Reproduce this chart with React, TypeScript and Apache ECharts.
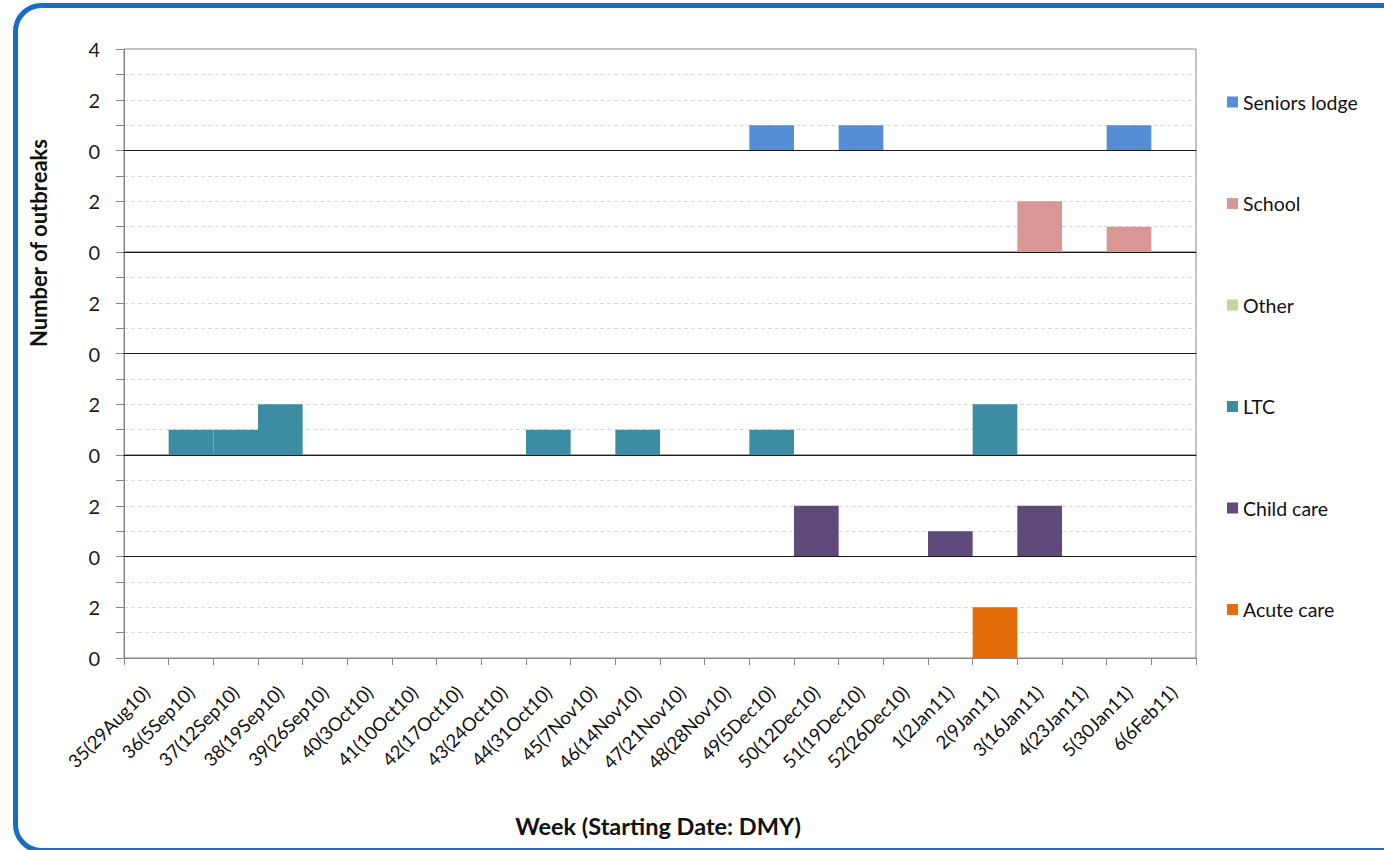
import React, { useEffect, useRef } from "react";
import * as echarts from "echarts";

const categories = [
  "35(29Aug10)", "36(5Sep10)", "37(12Sep10)", "38(19Sep10)", "39(26Sep10)", "40(3Oct10)",
  "41(10Oct10)", "42(17Oct10)", "43(24Oct10)", "44(31Oct10)", "45(7Nov10)", "46(14Nov10)",
  "47(21Nov10)", "48(28Nov10)", "49(5Dec10)", "50(12Dec10)", "51(19Dec10)", "52(26Dec10)",
  "1(2Jan11)", "2(9Jan11)", "3(16Jan11)", "4(23Jan11)", "5(30Jan11)", "6(6Feb11)",
];

const seniorsLodge = [0, 0, 0, 0, 0, 0, 0, 0, 0, 0, 0, 0, 0, 0, 1, 0, 1, 0, 0, 0, 0, 0, 1, 0];
const school = [0, 0, 0, 0, 0, 0, 0, 0, 0, 0, 0, 0, 0, 0, 0, 0, 0, 0, 0, 0, 2, 0, 1, 0];
const other = [0, 0, 0, 0, 0, 0, 0, 0, 0, 0, 0, 0, 0, 0, 0, 0, 0, 0, 0, 0, 0, 0, 0, 0];
const ltc = [0, 1, 1, 2, 0, 0, 0, 0, 0, 1, 0, 1, 0, 0, 1, 0, 0, 0, 0, 2, 0, 0, 0, 0];
const childCare = [0, 0, 0, 0, 0, 0, 0, 0, 0, 0, 0, 0, 0, 0, 0, 2, 0, 0, 1, 0, 2, 0, 0, 0];
const acuteCare = [0, 0, 0, 0, 0, 0, 0, 0, 0, 0, 0, 0, 0, 0, 0, 0, 0, 0, 0, 2, 0, 0, 0, 0];

const panelNames = ["Seniors lodge", "School", "Other", "LTC", "Child care", "Acute care"];
const panelData = [seniorsLodge, school, other, ltc, childCare, acuteCare];
const panelColors = ["#558ED5", "#D99694", "#C3D69B", "#3C8CA3", "#604A7B", "#E46C0A"];

const yMin = 0;
const yMax = 4;
const yInterval = 1;

const FONT = "Lato, 'Noto Sans', sans-serif";

export default function App() {
  const ref = useRef<HTMLDivElement>(null);

  useEffect(() => {
    if (!ref.current) return;
    const chart = echarts.init(ref.current, undefined, { renderer: "svg" });

    const left = 124;
    const width = 1072;
    const top0 = 49;
    const panelH = 101.5;
    const n = panelNames.length;

    const grids: any[] = [];
    const xAxes: any[] = [];
    const yAxes: any[] = [];
    const series: any[] = [];

    for (let i = 0; i < n; i++) {
      const isBottom = i === n - 1;
      const isTop = i === 0;
      grids.push({
        left,
        width,
        top: top0 + i * panelH,
        height: panelH,
        show: true,
        borderColor: "#868686",
        borderWidth: 1,
        backgroundColor: "transparent",
        outerBoundsMode: "none",
      });
      xAxes.push({
        type: "category",
        gridIndex: i,
        data: categories,
        boundaryGap: true,
        axisLine: {
          show: true,
          lineStyle: { color: isBottom ? "#868686" : "#1a1a1a", width: 1 },
        },
        axisTick: {
          show: isBottom,
          length: 7,
          alignWithLabel: false,
          interval: 0,
          lineStyle: { color: "#868686" },
        },
        axisLabel: isBottom
          ? {
              show: true,
              interval: 0,
              rotate: 45,
              margin: 31,
              fontSize: 18.5,
              fontFamily: FONT,
              color: "#111",
            }
          : { show: false },
        splitLine: { show: false },
        z: isBottom ? 2 : 3,
      });
      yAxes.push({
        type: "value",
        gridIndex: i,
        min: yMin,
        max: yMax,
        interval: yInterval,
        axisLine: { show: true, lineStyle: { color: "#868686" } },
        axisTick: { show: true, length: 8, lineStyle: { color: "#868686" } },
        axisLabel: {
          show: true,
          margin: 24,
          fontSize: 20,
          fontFamily: FONT,
          color: "#1a1a1a",
          formatter: (v: number) => {
            if (v === 4) return isTop ? "4" : "";
            return v % 2 === 0 ? String(v) : "";
          },
        },
        splitLine: {
          show: true,
          lineStyle: {
            type: [4, 3],
            color: ["transparent", "#D9D9D9", "#D9D9D9", "#D9D9D9", "transparent"],
            width: 1,
          },
        },
      });
      series.push({
        name: panelNames[i],
        type: "bar",
        xAxisIndex: i,
        yAxisIndex: i,
        data: panelData[i],
        barCategoryGap: "0%",
        barGap: "0%",
        itemStyle: { color: panelColors[i] },
        z: 1,
      });
    }

    chart.setOption({
      animation: false,
      backgroundColor: "#ffffff",
      textStyle: { fontFamily: FONT },
      grid: grids,
      xAxis: xAxes,
      yAxis: yAxes,
      series,
      legend: {
        data: panelNames,
        orient: "vertical",
        left: 1227,
        top: 92,
        padding: 0,
        icon: "rect",
        itemWidth: 11,
        itemHeight: 11,
        itemGap: 81.5,
        selectedMode: false,
        textStyle: {
          fontSize: 19.5,
          lineHeight: 20,
          fontFamily: FONT,
          color: "#111",
        },
      },
      graphic: [
        {
          type: "rect",
          left: 13,
          top: 3,
          shape: { width: 1400, height: 845, r: 26 },
          style: { fill: "none", stroke: "#1A6BC4", lineWidth: 5 },
          silent: true,
          z: 100,
        },
        {
          type: "text",
          x: 38,
          y: 243,
          rotation: Math.PI / 2,
          style: {
            text: "Number of outbreaks",
            fontSize: 22,
            fontWeight: "bold",
            fontFamily: FONT,
            fill: "#111",
            align: "center",
            verticalAlign: "middle",
          },
        },
        {
          type: "text",
          x: 658,
          y: 826,
          style: {
            text: "Week (Starting Date: DMY)",
            fontSize: 23.5,
            fontWeight: "bold",
            fontFamily: FONT,
            fill: "#111",
            align: "center",
            verticalAlign: "middle",
          },
        },
      ],
    });

    return () => {
      chart.dispose();
    };
  }, []);

  return (
    <div
      ref={ref}
      style={{ position: "absolute", left: 0, top: 0, width: 1384, height: 850, overflow: "hidden" }}
    />
  );
}
